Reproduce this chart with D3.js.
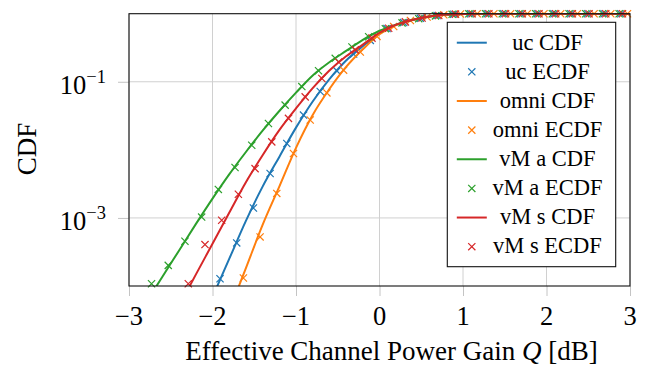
<!DOCTYPE html>
<html>
<head>
<meta charset="utf-8">
<script src="https://cdn.jsdelivr.net/npm/d3@7"></script>
<style>
  body { margin: 0; background: #fff; }
  svg { display: block; font-family: 'Liberation Serif', 'Times New Roman', serif; }
</style>
</head>
<body>
<svg class="chart" width="648" height="370"></svg>
<script>
// model CDF, sampled on a common grid (dB)
const cdfGrid = [-2.8, -2.6, -2.4, -2.2, -2.0, -1.8, -1.6, -1.4, -1.2, -1.0, -0.8, -0.6,
  -0.4, -0.2, 0.0, 0.2, 0.4, 0.6, 0.8, 1.0, 1.2, 1.4, 3.0];
const ucCdf = [null, null, null, null, 6.9e-5, 2.5e-4, 9.06e-4, 2.88e-3, 7.88e-3, 0.0212, 0.0513, 0.109,
  0.205, 0.333, 0.513, 0.69, 0.812, 0.909, 0.97, 0.993, 0.999, 1, 1];
const omniCdf = [null, null, null, null, null, 4.3e-5, 1.83e-4, 7.89e-4, 2.88e-3, 0.0107, 0.0325, 0.0782,
  0.165, 0.30, 0.50, 0.68, 0.81, 0.908, 0.97, 0.993, 0.999, 1, 1];
const vmaCdf = [5.6e-5, 1.37e-4, 3.33e-4, 8.1e-4, 1.92e-3, 4.36e-3, 9.3e-3, 0.0191, 0.0372, 0.0693, 0.124, 0.194,
  0.284, 0.412, 0.562, 0.692, 0.813, 0.908, 0.97, 0.993, 0.999, 1, 1];
const vmsCdf = [null, null, 5.1e-5, 1.47e-4, 4.17e-4, 1.19e-3, 3.35e-3, 8.35e-3, 0.0195, 0.0406, 0.0807, 0.146,
  0.237, 0.352, 0.525, 0.69, 0.813, 0.91, 0.97, 0.993, 0.999, 1, 1];

// empirical CDF markers
const ucEcdfX = [-1.91, -1.71, -1.51, -1.31, -1.11, -0.91, -0.71, -0.51, -0.31, -0.11, 0.09, 0.29, 0.49,
  0.69, 0.89, 1.09, 1.29, 1.49, 1.69, 1.89, 2.09, 2.29, 2.49, 2.69, 2.89];
const ucEcdfY = [1.28e-4, 4.29e-4, 1.40e-3, 4.5e-3, 0.0124, 0.0324, 0.0719, 0.1445, 0.255, 0.405, 0.605, 0.741, 0.855,
  0.938, 0.984, 0.9965, 1, 1, 1, 1, 1, 1, 1, 1, 1];
const omniEcdfX = [-1.63, -1.43, -1.23, -1.03, -0.83, -0.63, -0.43, -0.23, -0.03, 0.17, 0.37, 0.57, 0.77,
  0.97, 1.17, 1.37, 1.57, 1.77, 1.97, 2.17, 2.37, 2.57, 2.77, 2.97];
const omniEcdfY = [1.31e-4, 5.26e-4, 2.29e-3, 8.85e-3, 0.0274, 0.0686, 0.148, 0.274, 0.464, 0.649, 0.794, 0.893, 0.962,
  0.991, 0.9986, 1, 1, 1, 1, 1, 1, 1, 1, 1];
const vmaEcdfX = [-2.73, -2.53, -2.33, -2.13, -1.93, -1.73, -1.53, -1.33, -1.13, -0.93, -0.73, -0.53, -0.33, -0.13,
  0.07, 0.27, 0.47, 0.67, 0.87, 1.07, 1.27, 1.47, 1.67, 1.87, 2.07, 2.27, 2.47, 2.67, 2.87];
const vmaEcdfY = [1.08e-4, 2.01e-4, 4.54e-4, 1.03e-3, 2.62e-3, 5.5e-3, 0.0117, 0.0244, 0.0454, 0.085, 0.145, 0.221, 0.324, 0.459,
  0.603, 0.733, 0.845, 0.929, 0.979, 0.995, 1, 1, 1, 1, 1, 1, 1, 1, 1];
const vmsEcdfX = [-2.29, -2.09, -1.89, -1.69, -1.49, -1.29, -1.09, -0.89, -0.69, -0.49, -0.29, -0.09, 0.11,
  0.31, 0.51, 0.71, 0.91, 1.11, 1.31, 1.51, 1.71, 1.91, 2.11, 2.31, 2.51, 2.71, 2.91];
const vmsEcdfY = [1.08e-4, 4.06e-4, 9.25e-4, 2.23e-3, 5.3e-3, 0.0131, 0.029, 0.060, 0.1117, 0.195, 0.294, 0.438, 0.611,
  0.759, 0.865, 0.942, 0.986, 0.997, 1, 1, 1, 1, 1, 1, 1, 1, 1];

const xTicks = [-3, -2, -1, 0, 1, 2, 3];
const yTicks = [1e-1, 1e-3];
const yTickExp = ['\u22121', '\u22123'];

const series = [
  { name: 'uc', color: '#1f77b4', cdf: ucCdf, ex: ucEcdfX, ey: ucEcdfY },
  { name: 'omni', color: '#ff7f0e', cdf: omniCdf, ex: omniEcdfX, ey: omniEcdfY },
  { name: 'vM a', color: '#2ca02c', cdf: vmaCdf, ex: vmaEcdfX, ey: vmaEcdfY },
  { name: 'vM s', color: '#d62728', cdf: vmsCdf, ex: vmsEcdfX, ey: vmsEcdfY }
];

const margins = { top: 13.7, right: 18, bottom: 84, left: 129 },
  width = 648 - margins.left - margins.right,
  height = 370 - margins.top - margins.bottom;

const svg = d3.select('.chart');
const chart = svg.append('g')
  .attr('transform', 'translate(' + margins.left + ',' + margins.top + ')');

const xScale = d3.scaleLinear().domain([-3, 3]).range([0, width]);
const yScale = d3.scaleLog().domain([1e-4, 1]).range([height, 0]);

chart.append('defs').append('clipPath').attr('id', 'clip')
  .append('rect').attr('width', width).attr('height', height);

// grid
chart.append('g').selectAll('line').data(xTicks).enter().append('line')
  .attr('x1', d => xScale(d)).attr('x2', d => xScale(d))
  .attr('y1', 0).attr('y2', height)
  .attr('stroke', '#d0d0d0').attr('stroke-width', 1);
chart.append('g').selectAll('line').data(yTicks).enter().append('line')
  .attr('x1', 0).attr('x2', width)
  .attr('y1', d => yScale(d)).attr('y2', d => yScale(d))
  .attr('stroke', '#d0d0d0').attr('stroke-width', 1);

// axes (ticks outside, labels drawn by hand)
const xAxis = chart.append('g')
  .attr('transform', 'translate(0,' + height + ')')
  .call(d3.axisBottom(xScale).tickValues(xTicks).tickSize(10).tickFormat(''));
const yAxis = chart.append('g')
  .call(d3.axisLeft(yScale).tickValues(yTicks).tickSize(11).tickFormat(''));
[xAxis, yAxis].forEach(a => {
  a.select('.domain').remove();
  a.selectAll('.tick line').attr('stroke', '#c4c4c4').attr('stroke-width', 1);
});

chart.append('g').selectAll('text').data(xTicks).enter().append('text')
  .attr('x', d => xScale(d))
  .attr('y', height + 39)
  .style('font-size', '26.5px')
  .style('text-anchor', 'middle')
  .text(d => d < 0 ? '\u2212' + Math.abs(d) : String(d));

const yLab = chart.append('g').selectAll('text').data(yTicks).enter().append('text')
  .attr('x', -23)
  .attr('y', d => yScale(d) + 12.3)
  .style('font-size', '26.5px')
  .style('text-anchor', 'end');
yLab.append('tspan').text('10');
yLab.append('tspan').attr('dy', -11).style('font-size', '18.5px').text((d, i) => yTickExp[i]);

// curves and markers
const line = d3.line()
  .defined(d => d[1] != null)
  .x(d => xScale(d[0]))
  .y(d => yScale(d[1]))
  .curve(d3.curveMonotoneX);

const cross = 3.6;
const crossPath = 'M' + (-cross) + ',' + (-cross) + 'L' + cross + ',' + cross +
  'M' + (-cross) + ',' + cross + 'L' + cross + ',' + (-cross);

series.forEach(s => {
  chart.append('path')
    .datum(cdfGrid.map((x, i) => [x, s.cdf[i]]))
    .attr('clip-path', 'url(#clip)')
    .attr('fill', 'none')
    .attr('stroke', s.color)
    .attr('stroke-width', 2)
    .attr('d', line);

  chart.append('g').selectAll('path')
    .data(s.ex.map((x, i) => [x, s.ey[i]]))
    .enter().append('path')
    .attr('transform', d => 'translate(' + xScale(d[0]) + ',' + yScale(d[1]) + ')')
    .attr('d', crossPath)
    .attr('fill', 'none')
    .attr('stroke', s.color)
    .attr('stroke-width', 1.2);
});

// frame
chart.append('rect')
  .attr('width', width).attr('height', height)
  .attr('fill', 'none').attr('stroke', '#111').attr('stroke-width', 1.1);

// axis labels
chart.append('text')
  .style('font-size', '27px')
  .style('text-anchor', 'middle')
  .attr('x', width / 2 + 12)
  .attr('y', height + 74)
  .html('Effective Channel Power Gain <tspan font-style="italic">Q</tspan> [dB]');

chart.append('text')
  .style('font-size', '27px')
  .style('text-anchor', 'middle')
  .attr('transform', 'rotate(-90)')
  .attr('x', -(149 - margins.top))
  .attr('y', -93)
  .text('CDF');

// legend
const legendRows = [];
series.forEach(s => {
  legendRows.push({ label: s.name + ' CDF', color: s.color, kind: 'line' });
  legendRows.push({ label: s.name + ' ECDF', color: s.color, kind: 'mark' });
});

const legend = svg.append('g').attr('transform', 'translate(447.3,22.3)');
legend.append('rect')
  .attr('width', 168.4).attr('height', 244.4)
  .attr('fill', '#fff').attr('stroke', '#111').attr('stroke-width', 1.1);

const row = legend.selectAll('g.row').data(legendRows).enter().append('g')
  .attr('class', 'row')
  .attr('transform', (d, i) => 'translate(0,' + (20.4 + i * 29.14) + ')');

row.filter(d => d.kind === 'line').append('line')
  .attr('x1', 9.5).attr('x2', 39.5)
  .attr('stroke', d => d.color).attr('stroke-width', 2);
row.filter(d => d.kind === 'mark').append('path')
  .attr('transform', 'translate(24.5,0)')
  .attr('d', crossPath)
  .attr('fill', 'none').attr('stroke', d => d.color).attr('stroke-width', 1.2);
row.append('text')
  .attr('x', 100.2).attr('y', 6.8)
  .style('font-size', '22.5px')
  .style('text-anchor', 'middle')
  .text(d => d.label);
</script>
</body>
</html>
